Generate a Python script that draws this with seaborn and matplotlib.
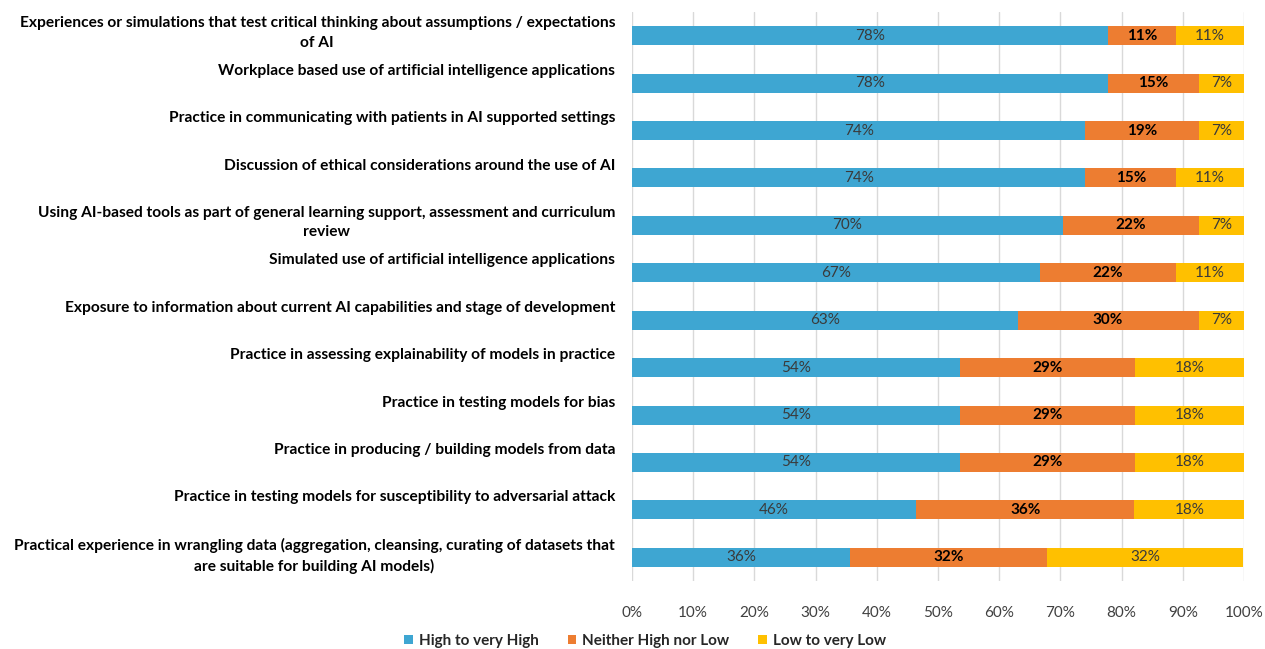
import matplotlib
matplotlib.use("Agg")
import matplotlib.pyplot as plt
import matplotlib.transforms as mtransforms
from matplotlib.patches import Patch
import numpy as np
import pandas as pd
import seaborn as sns

categories = [
    "Experiences or simulations that test critical thinking about assumptions / expectations\nof AI",
    "Workplace based use of artificial intelligence applications",
    "Practice in communicating with patients in AI supported settings",
    "Discussion of ethical considerations around the use of AI",
    "Using AI-based tools as part of general learning support, assessment and curriculum\nreview",
    "Simulated use of artificial intelligence applications",
    "Exposure to information about current AI capabilities and stage of development",
    "Practice in assessing explainability of models in practice",
    "Practice in testing models for bias",
    "Practice in producing / building models from data",
    "Practice in testing models for susceptibility to adversarial attack",
    "Practical experience in wrangling data (aggregation, cleansing, curating of datasets that\nare suitable for building AI models)",
]
high = [77.8, 77.8, 74.1, 74.1, 70.4, 66.7, 63.0, 53.6, 53.6, 53.6, 46.4, 35.7]
neither = [11.1, 14.8, 18.5, 14.8, 22.2, 22.2, 29.6, 28.6, 28.6, 28.6, 35.7, 32.1]
low = [11.1, 7.4, 7.4, 11.1, 7.4, 11.1, 7.4, 17.9, 17.9, 17.9, 17.9, 32.1]
series = ["High to very High", "Neither High nor Low", "Low to very Low"]
colors = ["#3EA6D2", "#ED7D31", "#FFC000"]

sns.set_theme(style="white")
plt.rcParams["font.family"] = ["Lato", "DejaVu Sans"]


def pct(v):
    return f"{int(v + 0.5)}%"


df = pd.DataFrame({"cat": categories, "high": high, "neither": neither, "low": low})
df["c1"] = df["high"]
df["c2"] = df["high"] + df["neither"]
df["c3"] = df["c2"] + df["low"]

fig = plt.figure(figsize=(12.65, 6.49), dpi=100)
ax = fig.add_axes([632 / 1265, 1 - 581 / 649, (1244 - 632) / 1265, (581 - 12) / 649])

for col, colr in zip(["c3", "c2", "c1"], colors[::-1]):
    sns.barplot(data=df, x=col, y="cat", orient="h", color=colr, width=0.4,
                saturation=1, ax=ax, edgecolor="none")

ax.set_xlim(0, 100)
ax.set_ylim(len(categories) - 0.5, -0.5)
ax.set_xticks(np.arange(0, 101, 10))
ax.set_xticklabels([f"{v}%" for v in range(0, 101, 10)], fontsize=11, color="#404040")
ax.tick_params(axis="x", length=0, pad=18)
ax.set_xlabel("")
ax.set_ylabel("")
ax.set_yticks([])
ax.grid(axis="x", color="#D9D9D9", linewidth=1)
ax.set_axisbelow(True)
for s in ax.spines.values():
    s.set_visible(False)

# data labels
for i in range(len(categories)):
    ax.text(high[i] / 2, i, pct(high[i]), ha="center", va="center",
            fontsize=11, color="#3A3A3A")
    ax.text(high[i] + neither[i] / 2, i, pct(neither[i]), ha="center", va="center",
            fontsize=11, color="black", fontweight="bold")
    ax.text(high[i] + neither[i] + low[i] / 2, i, pct(low[i]), ha="center", va="center",
            fontsize=11, color="#3A3A3A")

# category labels
trans = mtransforms.blended_transform_factory(ax.transAxes, ax.transData)
for i, c in enumerate(categories):
    ax.text(-17 / 612, i - 0.41, c, transform=trans, ha="right", va="top",
            multialignment="center", fontsize=11.2, fontweight="bold", color="black",
            linespacing=1.5)

handles = [Patch(facecolor=c, edgecolor="none") for c in colors]
fig.legend(handles, series, loc="center", bbox_to_anchor=(645 / 1265, 1 - 641 / 649),
           ncol=3, frameon=False, prop={"weight": "bold", "size": 11},
           handlelength=0.55, handleheight=0.55, handletextpad=0.4, columnspacing=1.9)

fig.savefig("out.png", dpi=100)
